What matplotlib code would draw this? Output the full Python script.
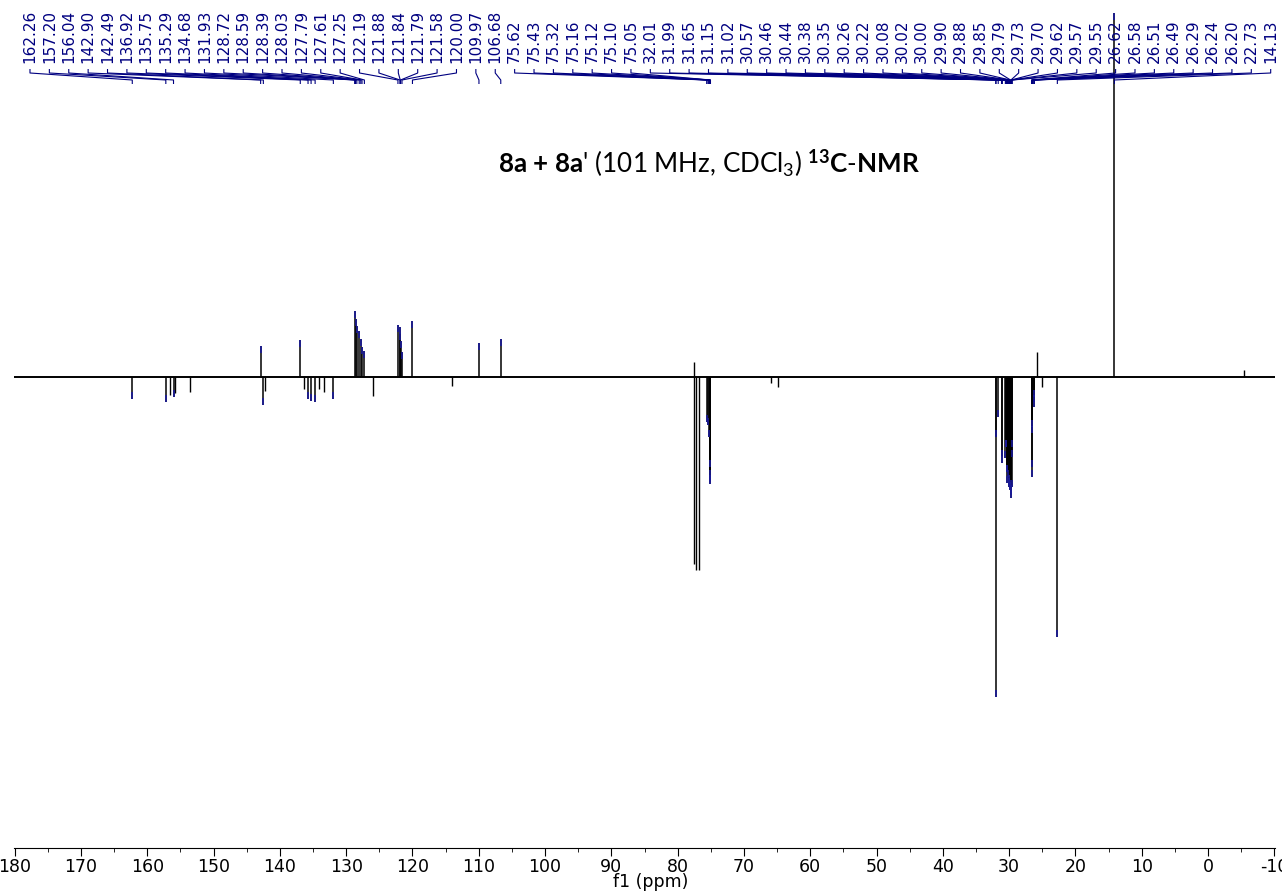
import numpy as np
import matplotlib.pyplot as plt
from matplotlib.collections import LineCollection
from matplotlib.ticker import MultipleLocator

# picked peaks (ppm) and their signed intensities (APT: CH/CH3 up, C/CH2 down)
peak_ppm = [162.26, 157.20, 156.04, 142.90, 142.49, 136.92, 135.75, 135.29,
            134.68, 131.93, 128.72, 128.59, 128.39, 128.03, 127.79, 127.61,
            127.25, 122.19, 121.88, 121.84, 121.79, 121.58, 120.00, 109.97,
            106.68, 75.62, 75.43, 75.32, 75.16, 75.12, 75.10, 75.05,
            32.01, 31.99, 31.65, 31.15, 31.02, 30.57, 30.46, 30.44, 30.38,
            30.35, 30.26, 30.22, 30.08, 30.02, 30.00, 29.90, 29.88, 29.85,
            29.79, 29.73, 29.70, 29.62, 29.57, 29.55, 26.62, 26.58, 26.51,
            26.49, 26.29, 26.24, 26.20, 22.73, 14.13]
peak_int = [-22, -25, -20, 31, -28, 37, -22, -24,
            -25, -22, 66, 58, 51, 46, 38, 30,
            26, 52, 50, 44, 36, 25, 56, 34,
            38, -45, -48, -60, -100, -105, -107, -90,
            -320, -60, -40, -86, -80, -81, -70, -70, -95,
            -95, -106, -100, -105, -110, -108, -113, -110, -112,
            -115, -121, -118, -110, -80, -70, -100, -90, -56,
            -50, -30, -25, -20, -260, 364]

# other signals without labels (solvent, small lines)
other_ppm = [156.5, 155.8, 153.5, 142.3, 136.4, 134.1, 133.3, 125.9, 114.0,
             77.55, 77.48, 77.16, 76.84, 65.9, 64.8, 25.85, 25.1, -5.4]
other_int = [-18, -16, -15, -14, -12, -12, -15, -19, -9,
             15, -187, -193, -193, -6, -10, 25, -10, 7]

x_major = 10
x_minor = 5

plt.rcParams['axes.unicode_minus'] = False
plt.rcParams['mathtext.fontset'] = 'custom'
plt.rcParams['mathtext.rm'] = 'Lato'
plt.rcParams['mathtext.bf'] = 'Lato:bold'
plt.rcParams['mathtext.it'] = 'Lato:italic'

fig = plt.figure(figsize=(12.82, 8.92), dpi=100)
ax = fig.add_axes([14 / 1282, 44 / 892, 1261 / 1282, 848 / 892])
ax.set_xlim(180.1, -10.1)
ax.set_ylim(-471, 377)

# spectrum
ax.axhline(0, color='black', lw=1.4, zorder=2)
ax.vlines(peak_ppm, 0, peak_int, color='black', lw=1.1, zorder=2)
ax.vlines(other_ppm, 0, other_int, color='black', lw=1.0, zorder=2)

# peak-pick markers at the tips
tips = np.array(peak_int, dtype=float)
ax.vlines(peak_ppm, tips - np.sign(tips) * 7, tips, color='#1a1a99', lw=1.2, zorder=3)

# labels spread evenly over the top with leader lines
label_x = np.linspace(177.69, -9.45, len(peak_ppm))
segs = []
for lx, px in zip(label_x, peak_ppm):
    segs.append([(lx, 308), (lx, 304), (px, 297), (px, 293)])
ax.add_collection(LineCollection(segs, colors='#000080', lw=0.8, zorder=3))
for lx, v in zip(label_x, peak_ppm):
    ax.text(lx, 314, f"{v:.2f}", rotation=90, ha='center', va='bottom',
            fontsize=11, color='#000080', family='DejaVu Sans')

# title
ax.text(75.3, 214,
        r"$\mathbf{8a}$ $\mathbf{+}$ $\mathbf{8a}$' (101 MHz, CDCl$_3$) $^{\mathbf{13}}\mathbf{C}$-$\mathbf{NMR}$",
        ha='center', va='center', fontsize=18.7, family='Lato', color='black')

# axis styling
for side in ('top', 'left', 'right'):
    ax.spines[side].set_visible(False)
ax.xaxis.set_major_locator(MultipleLocator(x_major))
ax.xaxis.set_minor_locator(MultipleLocator(x_minor))
ax.tick_params(axis='x', which='major', direction='out', length=6, labelsize=12.5, pad=1.5)
ax.tick_params(axis='x', which='minor', direction='out', length=3)
ax.set_yticks([])
fig.text(651 / 1282, 1 - 882 / 892, "f1 (ppm)", ha='center', va='center', fontsize=12.5)

fig.savefig("out.png", dpi=100)
